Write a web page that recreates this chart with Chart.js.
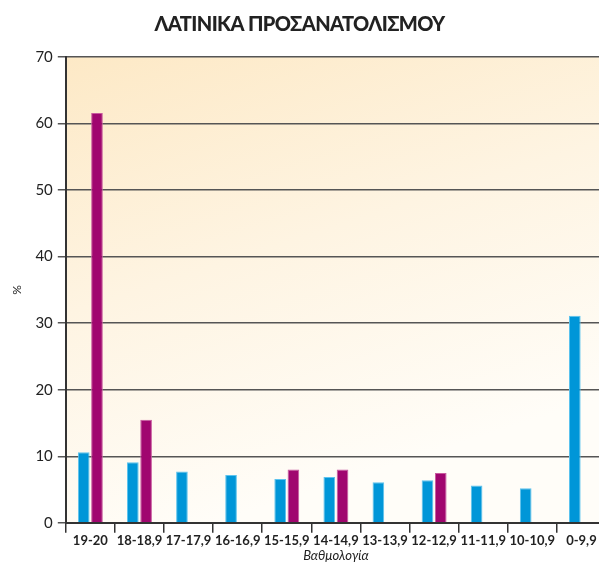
<!DOCTYPE html>
<html>
<head>
<meta charset="utf-8">
<script src="https://cdn.jsdelivr.net/npm/chart.js@4"></script>
<style>
  html, body { margin: 0; padding: 0; background: #fff; overflow: hidden; }
  #wrap { position: relative; width: 606px; height: 562px; }
  #title {
    position: absolute; left: 0; top: 11px; width: 599px; text-align: center;
    font-family: Lato, sans-serif; font-weight: 900; font-size: 20px; color: #222;
    letter-spacing: -0.6px; margin: 0;
  }
</style>
</head>
<body>
<div id="wrap">
  <h1 id="title">ΛΑΤΙΝΙΚΑ ΠΡΟΣΑΝΑΤΟΛΙΣΜΟΥ</h1>
  <canvas id="chart" width="606" height="562"></canvas>
</div>
<script>
const categories = ['19-20', '18-18,9', '17-17,9', '16-16,9', '15-15,9', '14-14,9', '13-13,9', '12-12,9', '11-11,9', '10-10,9', '0-9,9'];
const blueValues = [10.6, 9.1, 7.7, 7.2, 6.6, 6.9, 6.1, 6.4, 5.6, 5.2, 31.1];
const purpleValues = [61.6, 15.5, null, null, 8.0, 8.0, null, 7.5, null, null, null];
const yTicks = [0, 10, 20, 30, 40, 50, 60, 70];

// cream gradient behind the plot area
const bgPlugin = {
  id: 'bg',
  beforeDraw(chart) {
    const { ctx, chartArea: a } = chart;
    const g = ctx.createLinearGradient(a.left, a.top, a.left + 150, a.bottom);
    g.addColorStop(0, '#fde9c6');
    g.addColorStop(0.5, '#fef4e2');
    g.addColorStop(1, '#fffdf8');
    ctx.save();
    ctx.fillStyle = g;
    ctx.fillRect(a.left, a.top, a.right - a.left, a.bottom - a.top);
    ctx.restore();
  }
};

new Chart(document.getElementById('chart'), {
  type: 'bar',
  data: {
    labels: categories,
    datasets: [
      {
        data: blueValues,
        backgroundColor: '#0096d8',
        borderColor: '#5cc3ee',
        borderWidth: 1,
        categoryPercentage: 0.54,
        barPercentage: 0.88
      },
      {
        data: purpleValues,
        backgroundColor: '#a0066f',
        borderColor: '#c85a9e',
        borderWidth: 1,
        categoryPercentage: 0.54,
        barPercentage: 0.88
      }
    ]
  },
  options: {
    responsive: false,
    animation: false,
    layout: { padding: { top: 57, left: 10, right: 0, bottom: -2 } },
    plugins: {
      legend: { display: false },
      tooltip: { enabled: false }
    },
    scales: {
      x: {
        grid: {
          offset: true,
          drawOnChartArea: false,
          color: '#333',
          lineWidth: 1.5,
          tickLength: 10
        },
        border: { color: '#333', width: 2 },
        ticks: {
          color: '#222',
          font: { family: 'Lato', size: 13, weight: 'bold' },
          padding: 0,
          maxRotation: 0,
          autoSkip: false
        },
        title: {
          display: true,
          text: 'Βαθμολογία',
          color: '#222',
          font: { family: 'Lato', size: 13, style: 'italic' },
          padding: { top: 0, bottom: 0 }
        }
      },
      y: {
        min: 0,
        max: 70,
        afterBuildTicks(axis) {
          axis.ticks = yTicks.map(v => ({ value: v }));
        },
        grid: {
          color: '#555',
          lineWidth: 1.5,
          tickLength: 8
        },
        border: { color: '#333', width: 2 },
        ticks: {
          color: '#222',
          font: { family: 'Lato', size: 15 },
          padding: 5
        },
        title: {
          display: true,
          text: '%',
          color: '#222',
          font: { family: 'Lato', size: 12 },
          padding: { top: 0, bottom: 6 }
        }
      }
    }
  },
  plugins: [bgPlugin]
});
</script>
</body>
</html>
